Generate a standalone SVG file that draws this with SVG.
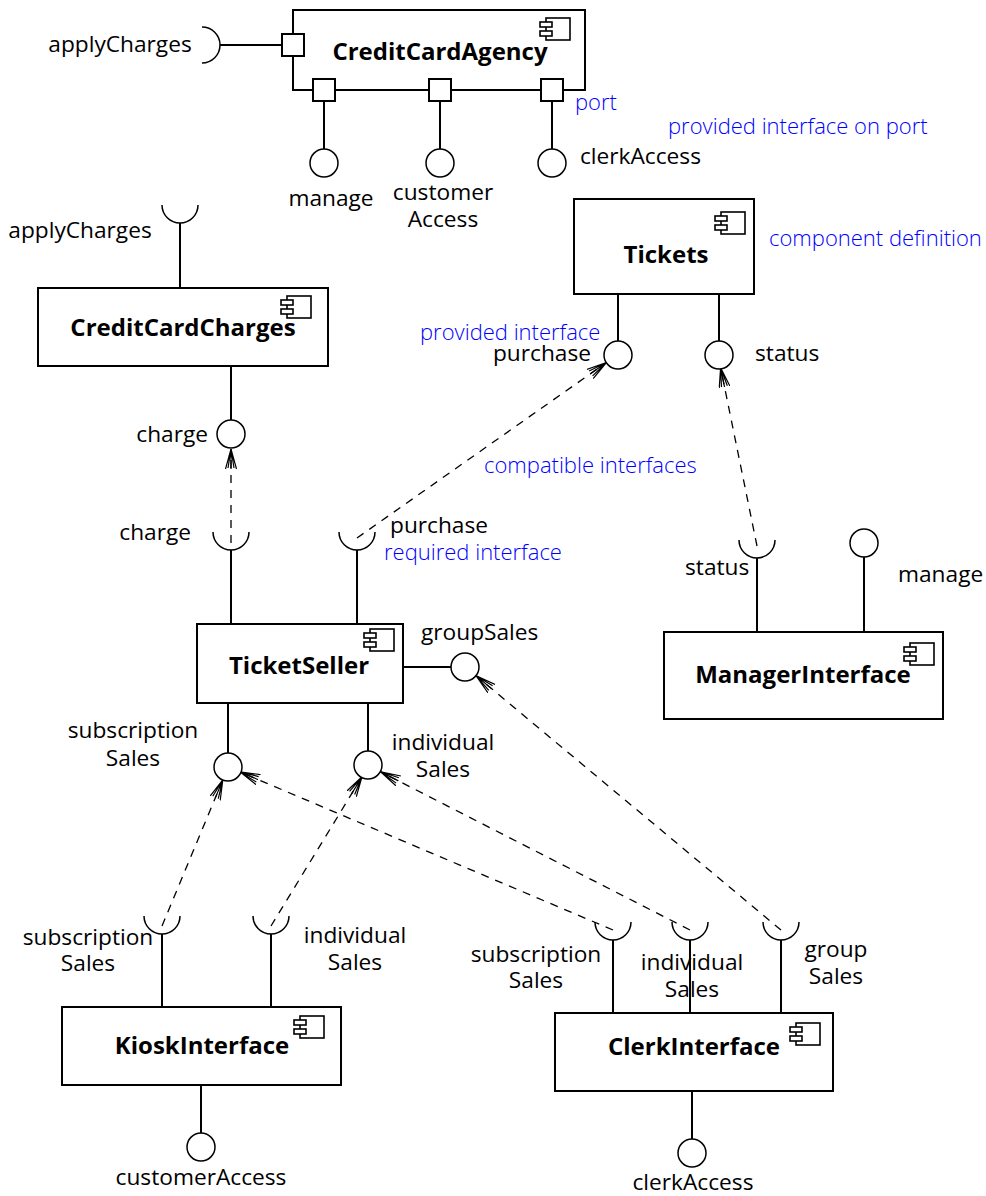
<svg xmlns="http://www.w3.org/2000/svg" width="986" height="1196" viewBox="0 0 986 1196">
  <style>
    .box { fill: #fff; stroke: #000; stroke-width: 2; }
    .port { fill: #fff; stroke: #000; stroke-width: 2; }
    .wire { fill: none; stroke: #000; stroke-width: 2; }
    .ball { fill: #fff; stroke: #000; stroke-width: 1.5; }
    .socket { fill: none; stroke: #000; stroke-width: 1.5; }
    .dep { fill: none; stroke: #000; stroke-width: 1.3; stroke-dasharray: 8 7; marker-end: url(#open); }
    .name { font-family: "Open Sans", "Liberation Sans", sans-serif; font-size: 24px; font-weight: 700; text-anchor: middle; fill: #000; }
    .lbl { font-family: "Open Sans", "Liberation Sans", sans-serif; font-size: 22.7px; fill: #000; }
    .note { font-family: "Open Sans", "Liberation Sans", sans-serif; font-size: 22px; font-weight: 300; fill: #0000ff; }
    .mid { text-anchor: middle; }
    .end { text-anchor: end; }
  </style>
  <defs>
    <!-- open arrowhead drawn as a fan of strokes -->
    <marker id="open" viewBox="0 0 20 12" refX="20" refY="6" markerWidth="20" markerHeight="12" markerUnits="userSpaceOnUse" orient="auto">
      <path d="M0,0.5 L20,6 L0,11.5 M0,6 L20,6 M1,3 L20,6 M1,9 L20,6" fill="none" stroke="#000" stroke-width="1.2"/>
    </marker>
    <g id="compIcon">
      <rect x="8" y="0" width="24" height="22" fill="#fff" stroke="#000" stroke-width="1.6"/>
      <rect x="2" y="4" width="12" height="5" fill="#fff" stroke="#000" stroke-width="1.6"/>
      <rect x="2" y="13" width="12" height="5" fill="#fff" stroke="#000" stroke-width="1.6"/>
    </g>
  </defs>

  <!-- dependency connectors (required -> provided) -->
  <g id="connectors">
    <path class="dep" d="M231,543 L231,449"/>
    <path class="dep" d="M357,538 L606.4,362.5"/>
    <path class="dep" d="M757,546 L720.6,367.7"/>
    <path class="dep" d="M162,926 L222.8,779.9"/>
    <path class="dep" d="M271,926 L362,776.8"/>
    <path class="dep" d="M613,930 L240,771.9"/>
    <path class="dep" d="M690,930 L380.6,771.8"/>
    <path class="dep" d="M781,930 L476.1,675.8"/>
  </g>

  <!-- CreditCardAgency with ports -->
  <g id="CreditCardAgency">
    <rect class="box" x="293" y="10" width="292" height="80"/>
    <use href="#compIcon" x="538" y="18"/>
    <text class="name" x="440" y="60">CreditCardAgency</text>
    <path class="wire" d="M220,45 L282,45"/>
    <path class="socket" d="M202,27 A18,18 0 0 1 202,63"/>
    <rect class="port" x="282" y="34" width="22" height="22"/>
    <path class="wire" d="M324,101 L324,149 M440,101 L440,149 M552,101 L552,149"/>
    <rect class="port" x="313" y="79" width="22" height="22"/>
    <rect class="port" x="429" y="79" width="22" height="22"/>
    <rect class="port" x="541" y="79" width="22" height="22"/>
    <circle class="ball" cx="324" cy="163" r="14"/>
    <circle class="ball" cx="440" cy="163" r="14"/>
    <circle class="ball" cx="552" cy="163" r="14"/>
    <text class="lbl mid" x="120" y="52">applyCharges</text>
    <text class="lbl mid" x="331" y="206">manage</text>
    <text class="lbl mid" x="443" y="200">customer</text>
    <text class="lbl mid" x="443" y="227">Access</text>
    <text class="lbl" x="580" y="164">clerkAccess</text>
    <text class="note" x="575" y="110">port</text>
    <text class="note" x="668" y="134">provided interface on port</text>
  </g>

  <!-- CreditCardCharges -->
  <g id="CreditCardCharges">
    <rect class="box" x="38" y="288" width="290" height="78"/>
    <use href="#compIcon" x="279" y="296"/>
    <text class="name" x="183" y="336">CreditCardCharges</text>
    <path class="socket" d="M162,205 A18,18 0 0 0 198,205"/>
    <path class="wire" d="M180,223 L180,288"/>
    <text class="lbl mid" x="80" y="238">applyCharges</text>
    <path class="wire" d="M231,366 L231,420"/>
    <circle class="ball" cx="231" cy="434" r="14"/>
    <text class="lbl end" x="208" y="442">charge</text>
  </g>

  <!-- Tickets -->
  <g id="Tickets">
    <rect class="box" x="574" y="199" width="180" height="95"/>
    <use href="#compIcon" x="713" y="212"/>
    <text class="name" x="666" y="263">Tickets</text>
    <path class="wire" d="M618,294 L618,341 M719,294 L719,341"/>
    <circle class="ball" cx="618" cy="355" r="14"/>
    <circle class="ball" cx="719" cy="355" r="14"/>
    <text class="lbl end" x="591" y="361">purchase</text>
    <text class="lbl" x="755" y="361">status</text>
    <text class="note" x="420" y="340">provided interface</text>
    <text class="note" x="769" y="246">component definition</text>
    <text class="note" x="484" y="473">compatible interfaces</text>
  </g>

  <!-- TicketSeller -->
  <g id="TicketSeller">
    <rect class="box" x="197" y="624" width="206" height="79"/>
    <use href="#compIcon" x="362" y="629"/>
    <text class="name" x="299" y="674">TicketSeller</text>
    <path class="socket" d="M213,532 A18,18 0 0 0 249,532"/>
    <path class="wire" d="M231,550 L231,624"/>
    <text class="lbl end" x="191" y="540">charge</text>
    <path class="socket" d="M339,532 A18,18 0 0 0 375,532"/>
    <path class="wire" d="M357,550 L357,624"/>
    <text class="lbl" x="390" y="533">purchase</text>
    <text class="note" x="384" y="560">required interface</text>
    <path class="wire" d="M403,667 L451,667"/>
    <circle class="ball" cx="465" cy="667" r="14"/>
    <text class="lbl" x="421" y="640">groupSales</text>
    <path class="wire" d="M228,703 L228,753 M368,703 L368,751"/>
    <circle class="ball" cx="228" cy="767" r="14"/>
    <circle class="ball" cx="368" cy="765" r="14"/>
    <text class="lbl mid" x="133" y="738">subscription</text>
    <text class="lbl mid" x="133" y="766">Sales</text>
    <text class="lbl mid" x="443" y="750">individual</text>
    <text class="lbl mid" x="443" y="777">Sales</text>
  </g>

  <!-- ManagerInterface -->
  <g id="ManagerInterface">
    <rect class="box" x="664" y="632" width="279" height="87"/>
    <use href="#compIcon" x="902" y="643"/>
    <text class="name" x="803" y="683">ManagerInterface</text>
    <path class="socket" d="M739,540 A18,18 0 0 0 775,540"/>
    <path class="wire" d="M757,558 L757,632"/>
    <text class="lbl" x="685" y="575">status</text>
    <circle class="ball" cx="864" cy="543" r="14"/>
    <path class="wire" d="M864,557 L864,632"/>
    <text class="lbl" x="898" y="582">manage</text>
  </g>

  <!-- KioskInterface -->
  <g id="KioskInterface">
    <rect class="box" x="62" y="1007" width="279" height="78"/>
    <use href="#compIcon" x="292" y="1016"/>
    <text class="name" x="202" y="1054">KioskInterface</text>
    <path class="socket" d="M144,916 A18,18 0 0 0 180,916"/>
    <path class="wire" d="M162,934 L162,1007"/>
    <path class="socket" d="M253,916 A18,18 0 0 0 289,916"/>
    <path class="wire" d="M271,934 L271,1007"/>
    <text class="lbl mid" x="88" y="945">subscription</text>
    <text class="lbl mid" x="88" y="971">Sales</text>
    <text class="lbl mid" x="355" y="943">individual</text>
    <text class="lbl mid" x="355" y="970">Sales</text>
    <path class="wire" d="M201,1085 L201,1133"/>
    <circle class="ball" cx="201" cy="1147" r="14"/>
    <text class="lbl mid" x="201" y="1185">customerAccess</text>
  </g>

  <!-- ClerkInterface -->
  <g id="ClerkInterface">
    <rect class="box" x="555" y="1013" width="278" height="78"/>
    <use href="#compIcon" x="788" y="1023"/>
    <text class="name" x="694" y="1055">ClerkInterface</text>
    <path class="socket" d="M595,922 A18,18 0 0 0 631,922"/>
    <path class="wire" d="M613,940 L613,1013"/>
    <path class="socket" d="M672,922 A18,18 0 0 0 708,922"/>
    <path class="wire" d="M690,940 L690,1013"/>
    <path class="socket" d="M763,922 A18,18 0 0 0 799,922"/>
    <path class="wire" d="M781,940 L781,1013"/>
    <text class="lbl mid" x="536" y="962">subscription</text>
    <text class="lbl mid" x="536" y="988">Sales</text>
    <text class="lbl mid" x="692" y="970">individual</text>
    <text class="lbl mid" x="692" y="997">Sales</text>
    <text class="lbl mid" x="836" y="957">group</text>
    <text class="lbl mid" x="836" y="984">Sales</text>
    <path class="wire" d="M692,1091 L692,1139"/>
    <circle class="ball" cx="692" cy="1153" r="14"/>
    <text class="lbl mid" x="693" y="1190">clerkAccess</text>
  </g>
</svg>
